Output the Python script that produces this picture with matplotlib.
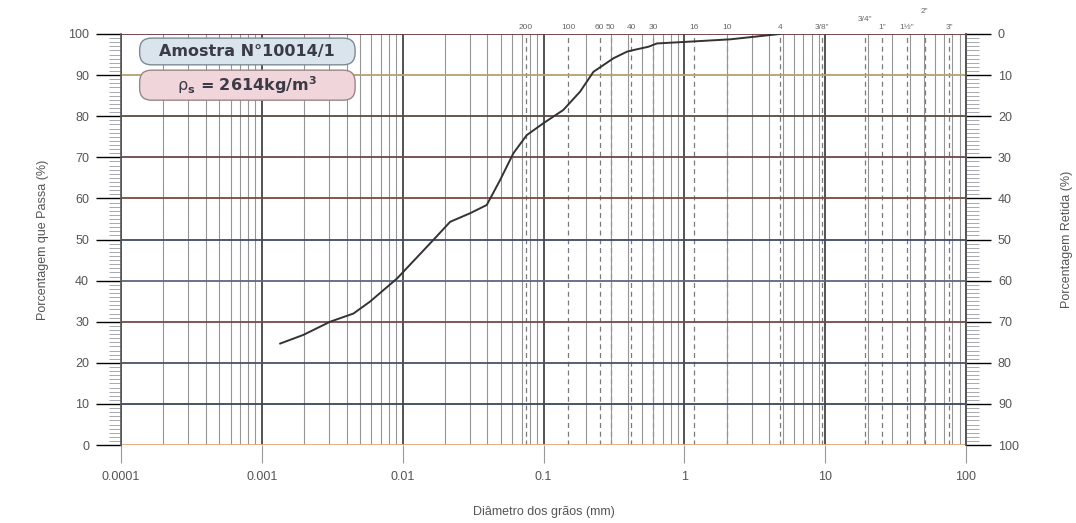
import matplotlib.pyplot as plt
from matplotlib.patches import FancyBboxPatch
from matplotlib.ticker import LogLocator, FixedLocator, NullFormatter

plt.rcParams["font.family"] = ["Liberation Sans", "DejaVu Sans"]
plt.rcParams["mathtext.fontset"] = "dejavusans"

# curva granulometrica
diam = [0.00135, 0.00197, 0.00305, 0.00447, 0.00586, 0.0091, 0.0165, 0.0217,
        0.0301, 0.0395, 0.0492, 0.0611, 0.076, 0.0998, 0.138, 0.182, 0.226,
        0.314, 0.391, 0.436, 0.556, 0.638, 1.04, 2.11, 4.76]
passa = [24.7, 26.8, 30.0, 32.0, 34.9, 40.5, 49.9, 54.3,
         56.4, 58.4, 64.5, 71.0, 75.4, 78.3, 81.5, 86.0, 90.8,
         94.1, 95.7, 96.1, 96.9, 97.7, 98.1, 98.7, 100.0]

# peneiras
peneira_mm = [0.075, 0.15, 0.25, 0.30, 0.42, 0.60, 1.18, 2.0, 4.76,
              9.5, 19.1, 25.4, 38.1, 50.8, 76.2]
peneira_txt = ["200", "100", "60", "50", "40", "30", "16", "10", "4",
               '3/8"', '3/4"', '1"', '1½"', '2"', '3"']
peneira_dy = [0, 0, 0, 0, 0, 0, 0, 0, 0, 0, 6, 0, 0, 12, 0]

niveis = [0, 10, 20, 30, 40, 50, 60, 70, 80, 90, 100]
cores_niveis = ["#e8a878", "#3a4560", "#4a5068", "#7a4848", "#5a6880", "#404a68",
                "#7a4840", "#6a4a48", "#5a4a40", "#b8a070", "#6a3a40"]

amostra = "Amostra N°10014/1"
massa_esp = r"$\mathrm{\rho}_{\mathbf{s}}$" + " = 2614kg/m" + r"$^{\mathbf{3}}$"

cinza = "#555555"

fig = plt.figure(figsize=(10.76, 5.23), dpi=100)
ax = fig.add_axes([0.1125, 0.149, 0.7853, 0.786])
ax.set_xscale("log")
ax.set_xlim(1e-4, 100)
ax.set_ylim(0, 100)

# grade vertical
ax.xaxis.set_major_locator(LogLocator(base=10, numticks=10))
ax.xaxis.set_minor_locator(LogLocator(base=10, subs=range(2, 10), numticks=20))
ax.xaxis.set_minor_formatter(NullFormatter())
ax.grid(which="major", axis="x", color="#444444", lw=1.3)
ax.grid(which="minor", axis="x", color="#959595", lw=0.8)

# linhas horizontais coloridas
for n, c in zip(niveis, cores_niveis):
    ax.axhline(n, color=c, lw=1.3, zorder=2)

# peneiras
for d, t, dy in zip(peneira_mm, peneira_txt, peneira_dy):
    ax.axvline(d, color="#7a7a7a", lw=0.9, ls=(0, (4, 3)), zorder=1.5)
    ax.annotate(t, xy=(d, 1.0), xycoords=("data", "axes fraction"),
                xytext=(0, 2 + dy), textcoords="offset points",
                ha="center", va="bottom", fontsize=6, color="#666666")

ax.plot(diam, passa, color="#333333", lw=1.4, zorder=5)

# eixos
for s in ["top", "bottom"]:
    ax.spines[s].set_visible(False)
for s in ["left", "right"]:
    ax.spines[s].set_color(cinza)
    ax.spines[s].set_linewidth(1.2)

ax.set_xticks([1e-4, 1e-3, 1e-2, 0.1, 1, 10, 100])
ax.set_xticklabels(["0.0001", "0.001", "0.01", "0.1", "1", "10", "100"])
ax.tick_params(axis="x", which="major", length=13, color="#999999",
               labelsize=9, labelcolor=cinza, pad=6)
ax.tick_params(axis="x", which="minor", length=0)

ax.yaxis.set_major_locator(FixedLocator(niveis))
ax.yaxis.set_minor_locator(FixedLocator(range(0, 101)))
ax.tick_params(axis="y", which="major", length=18, width=1.0,
               labelsize=9, labelcolor=cinza, pad=5)
ax.tick_params(axis="y", which="minor", length=9, width=0.6, color="#9a9aa8")
for tk, c in zip(ax.yaxis.get_major_ticks(), cores_niveis):
    tk.tick1line.set_color(c)

ax2 = ax.twinx()
ax2.set_ylim(100, 0)
ax2.yaxis.set_major_locator(FixedLocator(niveis))
ax2.yaxis.set_minor_locator(FixedLocator(range(0, 101)))
ax2.tick_params(axis="y", which="major", length=18, width=1.0,
                labelsize=9, labelcolor=cinza, pad=5)
ax2.tick_params(axis="y", which="minor", length=9, width=0.6, color="#9a9aa8")
for tk, c in zip(ax2.yaxis.get_major_ticks(), cores_niveis[::-1]):
    tk.tick2line.set_color(c)
for s in ["top", "bottom", "left"]:
    ax2.spines[s].set_visible(False)
ax2.spines["right"].set_color(cinza)
ax2.spines["right"].set_linewidth(1.2)

ax.set_xlabel("Diâmetro dos grãos (mm)", fontsize=9, color=cinza, labelpad=16)
ax.set_ylabel("Porcentagem que Passa (%)", fontsize=9, color=cinza, labelpad=14)
ax2.set_ylabel("Porcentagem Retida (%)", fontsize=9, color=cinza, labelpad=30)

# caixas de texto
asp = 845 / 411
caixa1 = FancyBboxPatch((0.022, 0.925), 0.255, 0.065, transform=ax.transAxes,
                        boxstyle="round,pad=0,rounding_size=0.014",
                        mutation_aspect=asp, fc="#d9e4ec", ec="#7d8a96",
                        lw=1.0, zorder=6)
caixa2 = FancyBboxPatch((0.022, 0.839), 0.255, 0.073, transform=ax.transAxes,
                        boxstyle="round,pad=0,rounding_size=0.014",
                        mutation_aspect=asp, fc="#f0d6da", ec="#9a8686",
                        lw=1.0, zorder=6)
ax.add_patch(caixa1)
ax.add_patch(caixa2)
ax.text(0.1495, 0.958, amostra, transform=ax.transAxes, ha="center",
        va="center", fontsize=11.5, fontweight="bold", family="DejaVu Sans",
        color="#3a3a48", zorder=7)
ax.text(0.1495, 0.876, massa_esp, transform=ax.transAxes, ha="center",
        va="center", fontsize=11.5, fontweight="bold", family="DejaVu Sans",
        color="#3a3a48", zorder=7)

fig.savefig("out.png", dpi=100)
